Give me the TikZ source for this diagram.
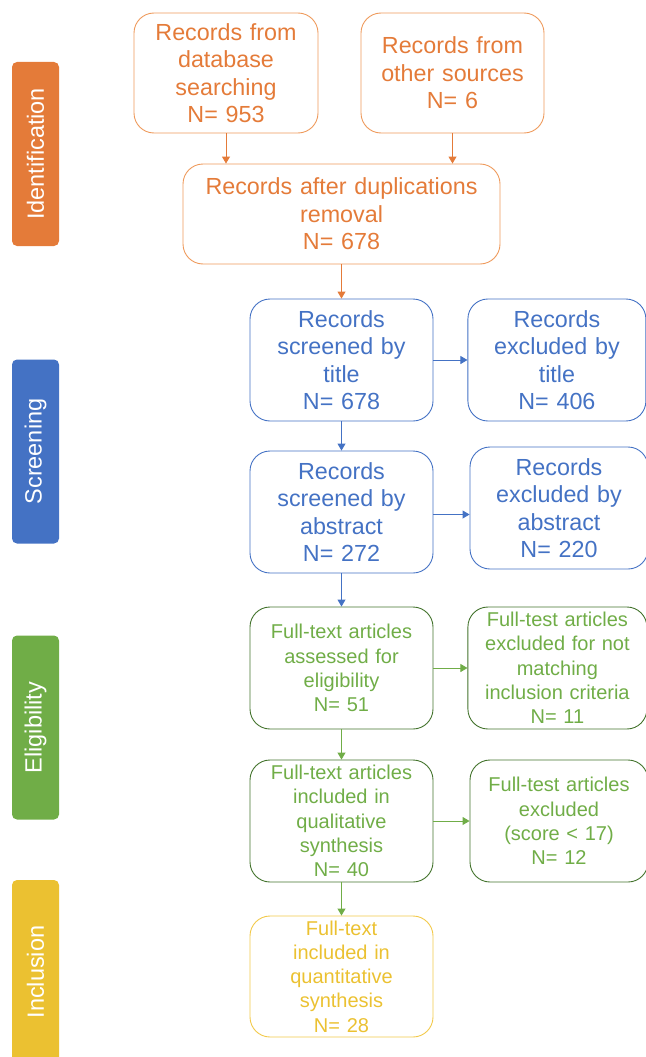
\documentclass[tikz,border=0pt]{standalone}
\usepackage{fontspec}
\setmainfont{Liberation Sans}
\usetikzlibrary{arrows.meta,positioning}

\definecolor{idorange}{HTML}{E47B39}
\definecolor{idline}{HTML}{EE9A5C}
\definecolor{scblue}{HTML}{4472C4}
\definecolor{elgreen}{HTML}{70AD47}
\definecolor{eldark}{HTML}{43732C}
\definecolor{inyellow}{HTML}{EBC131}
\definecolor{inline}{HTML}{F2C94A}

\tikzset{
  box/.style={draw, rounded corners=20pt, align=center, inner sep=0pt,
    line width=0.9pt, minimum height=122pt, text width=180pt},
  bigfont/.style={font=\fontsize{23.3}{27.5}\selectfont},
  smallfont/.style={font=\fontsize{20}{24.3}\selectfont},
  idbox/.style={box, bigfont, draw=idline, text=idorange},
  scbox/.style={box, bigfont, draw=scblue, text=scblue},
  elbox/.style={box, smallfont, draw=eldark, text=elgreen},
  inbox/.style={box, smallfont, draw=inline, text=inyellow},
  phase/.style={rotate=90, rounded corners=5pt, minimum width=184pt,
    minimum height=47pt, inner sep=0pt, text=white,
    font=\fontsize{23.5}{26}\selectfont},
  flow/.style={-{Triangle[width=8pt,length=7pt]}, line width=0.9pt},
}

\begin{document}
\begin{tikzpicture}[x=1pt, y=-1pt]
  \useasboundingbox (0,0) rectangle (645,1057);

  % phases
  \node [phase, fill=idorange] (ident) at (35.5,154) {Identification};
  \node [phase, fill=scblue] (screen) at (35.5,451.5) {Screening};
  \node [phase, fill=elgreen] (elig) at (35.5,727.5) {Eligibility};
  \node [phase, fill=inyellow] (incl) at (35.5,972) {Inclusion};

  % identification
  \node [idbox, minimum height=120pt, text width=184pt] (db) at (226,73)
    {Records from\\database\\searching\\N= 953};
  \node [idbox, minimum height=120pt, text width=183pt] (other) at (452.5,73)
    {Records from\\other sources\\N= 6};
  \node [idbox, minimum height=100pt, text width=317pt] (dup) at (341.5,214)
    {Records after duplications\\removal\\N= 678};

  % screening
  \node [scbox, text width=183pt] (title) at (341.5,360)
    {Records\\screened by\\title\\N= 678};
  \node [scbox, text width=178pt, right=34pt of title] (extitle)
    {Records\\excluded by\\title\\N= 406};
  \node [scbox, text width=183pt] (abstr) at (341.5,512)
    {Records\\screened by\\abstract\\N= 272};
  \node [scbox, text width=178pt] (exabs) at (559,508)
    {Records\\excluded by\\abstract\\N= 220};

  % eligibility
  \node [elbox, text width=183pt] (assess) at (341.5,668)
    {Full-text articles\\assessed for\\eligibility\\N= 51};
  \node [elbox, text width=179pt, right=34pt of assess] (excrit)
    {Full-test articles\\excluded for not\\matching\\inclusion criteria\\N= 11};
  \node [elbox, text width=183pt] (qual) at (341.5,821)
    {Full-text articles\\included in\\qualitative\\synthesis\\N= 40};
  \node [elbox, text width=178pt] (exscore) at (559,821)
    {Full-test articles\\excluded\\(score < 17)\\N= 12};

  % inclusion
  \node [inbox, text width=183pt, minimum height=121pt] (quant) at (341.5,976.5)
    {Full-text\\included in\\quantitative\\synthesis\\N= 28};

  % connectors
  \draw [flow, idorange] (db) -- (db |- dup.north);
  \draw [flow, idorange] (other) -- (other |- dup.north);
  \draw [flow, idorange] (dup) -- (title);
  \draw [flow, scblue] (title) -- (extitle);
  \draw [flow, scblue] (title) -- (abstr);
  \draw [flow, scblue] ([yshift=-2.5pt]abstr.east) -- ([yshift=-2.5pt]abstr.east -| exabs.west);
  \draw [flow, scblue] (abstr) -- (assess);
  \draw [flow, elgreen] (assess) -- (excrit);
  \draw [flow, elgreen] (assess) -- (qual);
  \draw [flow, elgreen] (qual) -- (exscore);
  \draw [flow, elgreen] (qual) -- (quant);
\end{tikzpicture}
\end{document}
